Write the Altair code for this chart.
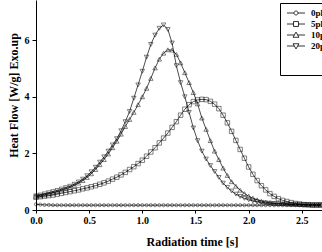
import altair as alt
import pandas as pd

time_s = [0.00, 0.04, 0.08, 0.12, 0.16, 0.20, 0.24, 0.28, 0.32, 0.36,
          0.40, 0.44, 0.48, 0.52, 0.56, 0.60, 0.64, 0.68, 0.72, 0.76,
          0.80, 0.84, 0.88, 0.92, 0.96, 1.00, 1.04, 1.08, 1.12, 1.16,
          1.20, 1.24, 1.28, 1.32, 1.36, 1.40, 1.44, 1.48, 1.52, 1.56,
          1.60, 1.64, 1.68, 1.72, 1.76, 1.80, 1.84, 1.88, 1.92, 1.96,
          2.00, 2.04, 2.08, 2.12, 2.16, 2.20, 2.24, 2.28, 2.32, 2.36,
          2.40, 2.44, 2.48, 2.52, 2.56, 2.60, 2.64, 2.68]

hf_0phr = [0.20, 0.19, 0.18, 0.18, 0.17, 0.17, 0.17, 0.17, 0.17, 0.17,
           0.17, 0.17, 0.17, 0.17, 0.17, 0.17, 0.17, 0.17, 0.17, 0.17,
           0.17, 0.17, 0.17, 0.17, 0.17, 0.17, 0.17, 0.17, 0.17, 0.17,
           0.17, 0.17, 0.17, 0.17, 0.17, 0.17, 0.17, 0.17, 0.17, 0.17,
           0.17, 0.17, 0.17, 0.17, 0.17, 0.17, 0.17, 0.17, 0.17, 0.17,
           0.17, 0.17, 0.17, 0.17, 0.17, 0.17, 0.17, 0.17, 0.17, 0.17,
           0.17, 0.17, 0.17, 0.17, 0.17, 0.17, 0.17, 0.17]

hf_5phr = [0.45, 0.47, 0.49, 0.51, 0.53, 0.56, 0.59, 0.62, 0.65, 0.68,
           0.71, 0.75, 0.78, 0.82, 0.86, 0.91, 0.96, 1.02, 1.09, 1.16,
           1.24, 1.33, 1.43, 1.53, 1.64, 1.76, 1.90, 2.05, 2.20, 2.37,
           2.54, 2.72, 2.92, 3.12, 3.35, 3.56, 3.72, 3.83, 3.89, 3.91,
           3.90, 3.84, 3.74, 3.58, 3.35, 3.08, 2.78, 2.46, 2.14, 1.83,
           1.52, 1.26, 1.04, 0.86, 0.71, 0.58, 0.48, 0.40, 0.34, 0.30,
           0.26, 0.23, 0.21, 0.19, 0.18, 0.17, 0.17, 0.17]

hf_10phr = [0.48, 0.50, 0.53, 0.57, 0.61, 0.65, 0.70, 0.75, 0.80, 0.87,
            0.95, 1.04, 1.15, 1.28, 1.43, 1.60, 1.78, 1.98, 2.20, 2.43,
            2.68, 2.95, 3.20, 3.45, 3.72, 4.00, 4.30, 4.65, 5.02, 5.33,
            5.54, 5.66, 5.65, 5.50, 5.20, 4.85, 4.50, 4.15, 3.75, 3.25,
            2.85, 2.45, 2.08, 1.78, 1.48, 1.22, 1.00, 0.84, 0.70, 0.58,
            0.49, 0.42, 0.36, 0.31, 0.28, 0.26, 0.24, 0.23, 0.22, 0.21,
            0.20, 0.20, 0.19, 0.19, 0.19, 0.18, 0.18, 0.18]

hf_20phr = [0.50, 0.53, 0.57, 0.61, 0.65, 0.69, 0.74, 0.79, 0.84, 0.91,
            0.99, 1.09, 1.21, 1.35, 1.51, 1.69, 1.88, 2.08, 2.30, 2.52,
            2.80, 3.12, 3.48, 3.95, 4.42, 4.90, 5.40, 5.85, 6.18, 6.42,
            6.54, 6.38, 5.90, 5.10, 4.50, 4.00, 3.45, 2.90, 2.45, 2.08,
            1.80, 1.57, 1.36, 1.15, 0.95, 0.80, 0.67, 0.56, 0.48, 0.41,
            0.36, 0.32, 0.29, 0.27, 0.25, 0.24, 0.23, 0.22, 0.21, 0.21,
            0.20, 0.20, 0.20, 0.19, 0.19, 0.19, 0.19, 0.19]

series_names = ["0phr", "5phr", "10phr", "20phr"]
x_ticks = [0.0, 0.5, 1.0, 1.5, 2.0, 2.5]
y_ticks = [0, 2, 4, 6]

rows = []
for name, vals in zip(series_names, [hf_0phr, hf_5phr, hf_10phr, hf_20phr]):
    for t, v in zip(time_s, vals):
        rows.append({"t": t, "v": v, "series": name})
df = pd.DataFrame(rows)

FONT = "Liberation Serif"

x_enc = alt.X(
    "t:Q",
    scale=alt.Scale(domain=[0, 2.69], nice=False, zero=False),
    axis=alt.Axis(
        values=x_ticks, format=".1f", title="Radiation time [s]",
        grid=False, domainColor="black", tickColor="black", tickSize=3,
        labelFont=FONT, labelFontWeight="bold", labelFontSize=10, labelColor="black",
        labelPadding=2, labelFlush=False, labelOverlap=False,
        titleFont=FONT, titleFontWeight="bold", titleFontSize=12, titleColor="black",
        titleX=156, titleY=31, titleBaseline="middle", titleAlign="center",
    ),
)
y_enc = alt.Y(
    "v:Q",
    scale=alt.Scale(domain=[0, 7.42], nice=False),
    axis=alt.Axis(
        values=y_ticks, format="d", title="Heat Flow [W/g] Exo.up",
        grid=False, domainColor="black", tickColor="black", tickSize=4,
        labelFont=FONT, labelFontWeight="bold", labelFontSize=10, labelColor="black",
        labelPadding=3, labelFlush=False, labelOverlap=False,
        titleFont=FONT, titleFontWeight="bold", titleFontSize=12, titleColor="black",
        titleX=-23, titleY=95, titleBaseline="middle", titleAlign="center", titleAngle=-90,
    ),
)

base = alt.Chart(df)

lines = base.mark_line(color="black", strokeWidth=0.7).encode(
    x=x_enc, y=y_enc, detail="series:N", order="t:Q"
)

marker_shape = alt.Shape(
    "series:N",
    scale=alt.Scale(domain=series_names,
                    range=["circle", "square", "triangle-up", "triangle-down"]),
    legend=None,
)

pts_small = base.transform_filter(alt.datum.series == "0phr").mark_point(
    filled=False, color="black", strokeWidth=0.7, size=10
).encode(x=x_enc, y=y_enc, shape=marker_shape)

pts_big = base.transform_filter(alt.datum.series != "0phr").mark_point(
    filled=False, color="black", strokeWidth=0.7, size=20
).encode(x=x_enc, y=y_enc, shape=marker_shape)

legend_paths = [
    "M-2,0L-0.44,0M0.44,0L2,0M0.44,0A0.44,0.44,0,1,1,-0.44,0A0.44,0.44,0,1,1,0.44,0Z",
    "M-2,0L-0.55,0M0.55,0L2,0M-0.55,-0.55L0.55,-0.55L0.55,0.55L-0.55,0.55Z",
    "M-2,0L-0.37,0M0.37,0L2,0M0,-0.65L0.65,0.5L-0.65,0.5Z",
    "M-2,0L-0.37,0M0.37,0L2,0M0,0.65L0.65,-0.5L-0.65,-0.5Z",
]

legend_layer = base.mark_point(opacity=0, filled=False, color="black").encode(
    x=x_enc, y=y_enc,
    shape=alt.Shape(
        "series:N",
        scale=alt.Scale(domain=series_names, range=legend_paths),
        legend=alt.Legend(
            orient="none", legendX=244, legendY=3,
            title=" ", titleOrient="bottom", titleFontSize=12, titlePadding=8,
            strokeColor="black", fillColor="white", padding=5,
            symbolSize=81, symbolStrokeColor="black", symbolFillColor="white",
            symbolStrokeWidth=0.8, symbolOpacity=1, symbolOffset=6,
            labelFont=FONT, labelFontWeight="bold", labelFontSize=9,
            labelColor="black", labelOffset=10, rowPadding=1,
        ),
    ),
)

chart = alt.layer(lines, pts_small, pts_big, legend_layer).resolve_scale(
    shape="independent"
).properties(
    width=286, height=210,
    autosize=alt.AutoSizeParams(type="none"),
    padding={"left": 36, "top": 0, "right": 0, "bottom": 42},
    background="white",
).configure_view(stroke=None)

chart.save("out.html", embed_options={"renderer": "svg", "actions": False})
